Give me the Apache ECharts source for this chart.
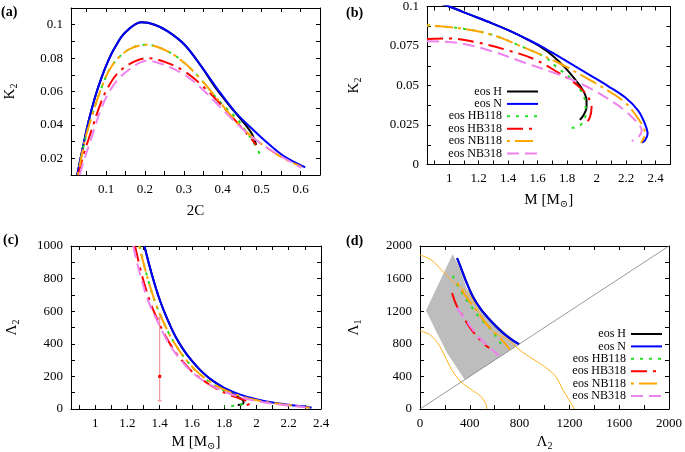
<!DOCTYPE html>
<html><head><meta charset="utf-8">
<script src="https://cdn.jsdelivr.net/npm/echarts@6/dist/echarts.min.js"></script>
<style>html,body{margin:0;padding:0;background:#fff}#c{width:685px;height:452px}</style>
</head><body><div id="c"></div>
<script>
// ---------- data ----------
const NAMES = ['eos H','eos N','eos HB118','eos HB318','eos NB118','eos NB318'];

// panel (a): K2 vs 2C
const a_H = [[0.026,0.010],[0.04,0.026],[0.055,0.042],[0.071,0.056],[0.088,0.068],[0.105,0.078],[0.122,0.086],[0.148,0.095],[0.191,0.1014],[0.225,0.100],[0.259,0.096],[0.302,0.088],[0.345,0.075],[0.379,0.063],[0.414,0.0525],[0.448,0.043],[0.474,0.035],[0.486,0.028]];
const a_N = [[0.026,0.010],[0.04,0.026],[0.055,0.042],[0.071,0.056],[0.088,0.068],[0.105,0.078],[0.122,0.086],[0.148,0.095],[0.191,0.1014],[0.225,0.100],[0.259,0.096],[0.302,0.088],[0.345,0.075],[0.388,0.061],[0.431,0.048],[0.474,0.038],[0.516,0.029],[0.559,0.021],[0.612,0.0146]];
const a_HB118 = [[0.028,0.010],[0.045,0.030],[0.062,0.044],[0.088,0.062],[0.114,0.075],[0.157,0.085],[0.204,0.088],[0.259,0.084],[0.302,0.077],[0.345,0.067],[0.388,0.055],[0.414,0.049],[0.439,0.043],[0.46,0.036],[0.478,0.030],[0.495,0.0226]];
const a_HB318 = [[0.028,0.010],[0.042,0.022],[0.056,0.032],[0.088,0.054],[0.114,0.066],[0.139,0.073],[0.174,0.078],[0.208,0.080],[0.259,0.077],[0.302,0.072],[0.345,0.064],[0.388,0.054],[0.431,0.043],[0.465,0.034],[0.486,0.028]];
const a_NB118 = [[0.028,0.010],[0.045,0.030],[0.062,0.044],[0.088,0.062],[0.114,0.075],[0.157,0.085],[0.204,0.088],[0.259,0.084],[0.302,0.077],[0.345,0.067],[0.388,0.055],[0.431,0.043],[0.474,0.033],[0.516,0.026],[0.559,0.0196],[0.602,0.015]];
const a_NB318 = [[0.032,0.010],[0.045,0.020],[0.058,0.029],[0.088,0.050],[0.114,0.062],[0.148,0.071],[0.208,0.0784],[0.259,0.075],[0.302,0.070],[0.345,0.062],[0.388,0.052],[0.431,0.042],[0.474,0.033],[0.516,0.026],[0.559,0.020],[0.602,0.0144]];
const a_xTicks = [0.05,0.1,0.15,0.2,0.25,0.3,0.35,0.4,0.45,0.5,0.55,0.6];
const a_xLabels = [0.1,0.2,0.3,0.4,0.5,0.6];
const a_yTicks = [0.02,0.03,0.04,0.05,0.06,0.07,0.08,0.09,0.1];
const a_yLabels = [0.02,0.04,0.06,0.08,0.1];

// panel (b): K2 vs M
const b_H = [[0.95,0.1015],[1.0,0.1],[1.15,0.0945],[1.287,0.0895],[1.40,0.085],[1.513,0.080],[1.62,0.0745],[1.694,0.0695],[1.784,0.0615],[1.852,0.054],[1.909,0.0466],[1.931,0.0404],[1.931,0.036],[1.909,0.031],[1.886,0.0282]];
const b_N = [[0.95,0.1015],[1.0,0.1],[1.15,0.0945],[1.287,0.0895],[1.40,0.085],[1.513,0.080],[1.63,0.0745],[1.739,0.0686],[1.852,0.0623],[1.965,0.056],[2.079,0.0495],[2.192,0.0425],[2.282,0.034],[2.327,0.0257],[2.345,0.0194],[2.327,0.0153],[2.305,0.0138]];
const b_HB118 = [[0.85,0.088],[1.06,0.0864],[1.287,0.0822],[1.513,0.0738],[1.65,0.068],[1.73,0.0615],[1.80,0.0565],[1.86,0.051],[1.905,0.0445],[1.925,0.038],[1.925,0.032],[1.905,0.0268],[1.875,0.0238],[1.83,0.0232]];
const b_HB318 = [[0.85,0.0795],[0.993,0.0798],[1.174,0.0776],[1.40,0.0722],[1.581,0.0665],[1.739,0.0582],[1.83,0.0529],[1.898,0.0477],[1.943,0.0425],[1.965,0.0362],[1.954,0.030],[1.92,0.0247]];
const b_NB118 = [[0.85,0.088],[1.06,0.0864],[1.287,0.0822],[1.513,0.0738],[1.739,0.0644],[1.965,0.0529],[2.079,0.0466],[2.192,0.0393],[2.259,0.032],[2.316,0.0236],[2.327,0.0194],[2.32,0.017],[2.3,0.0138]];
const b_NB318 = [[0.85,0.078],[1.06,0.077],[1.287,0.0718],[1.513,0.0644],[1.739,0.0571],[1.852,0.0529],[1.965,0.0477],[2.079,0.0414],[2.192,0.0341],[2.282,0.0257],[2.305,0.0215],[2.282,0.0173],[2.237,0.0148]];
const b_xTicks = [0.9,1,1.1,1.2,1.3,1.4,1.5,1.6,1.7,1.8,1.9,2,2.1,2.2,2.3,2.4];
const b_xLabels = [1,1.2,1.4,1.6,1.8,2,2.2,2.4];
const b_yTicks = [0.0125,0.025,0.0375,0.05,0.0625,0.075,0.0875];
const b_yLabels = [0,0.025,0.05,0.075,0.1];

// panel (c): Lambda2 vs M
const c_H = [[1.305,1000],[1.35,830],[1.40,670],[1.45,545],[1.50,440],[1.55,360],[1.60,295],[1.65,240],[1.70,195],[1.75,158],[1.80,126],[1.85,95],[1.895,68],[1.92,45],[1.915,32],[1.884,24]];
const c_N = [[1.305,1000],[1.35,830],[1.40,670],[1.45,545],[1.50,440],[1.55,360],[1.60,295],[1.65,240],[1.70,195],[1.75,160],[1.80,130],[1.90,88],[2.0,60],[2.1,40],[2.2,26],[2.3,15],[2.342,8]];
const c_HB118 = [[1.276,1000],[1.32,820],[1.37,660],[1.42,540],[1.47,440],[1.52,360],[1.57,295],[1.62,240],[1.67,197],[1.72,158],[1.78,122],[1.84,92],[1.89,68],[1.915,50],[1.92,38],[1.905,27],[1.87,21],[1.80,16]];
const c_HB318 = [[1.247,1000],[1.29,820],[1.34,660],[1.39,540],[1.44,440],[1.49,360],[1.54,295],[1.59,240],[1.64,197],[1.70,155],[1.76,120],[1.82,92],[1.88,70],[1.935,52],[1.962,37],[1.94,24],[1.91,16]];
const c_NB118 = [[1.272,1000],[1.32,820],[1.37,660],[1.42,540],[1.47,440],[1.52,360],[1.57,295],[1.62,240],[1.67,197],[1.72,162],[1.78,128],[1.88,86],[1.98,58],[2.1,37],[2.2,24],[2.33,7]];
const c_NB318 = [[1.236,1000],[1.28,820],[1.33,660],[1.385,540],[1.435,440],[1.485,360],[1.535,295],[1.585,240],[1.64,195],[1.70,155],[1.78,115],[1.88,78],[1.99,50],[2.11,31],[2.23,18],[2.305,10]];
const c_err = [[1.4,200,50,560]];   // M, Lambda, low, high
const c_xTicks = [0.9,1,1.1,1.2,1.3,1.4,1.5,1.6,1.7,1.8,1.9,2,2.1,2.2,2.3];
const c_xLabels = [1,1.2,1.4,1.6,1.8,2,2.2,2.4];
const c_yTicks = [100,200,300,400,500,600,700,800,900];
const c_yLabels = [0,200,400,600,800,1000];

// panel (d): Lambda1 vs Lambda2
const d_H = [[298,1850],[330,1728],[370,1566],[423,1384],[490,1222],[569,1080],[649,958],[720,870],[795,795]];
const d_N = [[298,1850],[330,1728],[370,1566],[423,1384],[490,1222],[569,1080],[649,958],[720,870],[795,795]];
const d_HB118 = [[263,1635],[330,1445],[410,1262],[490,1100],[569,979],[649,800]];
const d_HB318 = [[258,1424],[290,1283],[343,1141],[410,979],[516,796],[556,750]];
const d_NB118 = [[299,1545],[360,1403],[427,1261],[507,1098],[587,955],[667,833],[720,732]];
const d_NB318 = [[293,1243],[383,1060],[463,898],[543,776],[636,654]];
const d_region = [[262,1900],[48,1208],[130,950],[220,680],[360,360],[780,780],[747,854],[613,1037],[480,1240],[373,1485],[320,1729]];
const d_c90 = [[0,1890],[90,1830],[197,1668],[277,1546],[383,1424],[463,1222],[516,1060],[596,938],[702,857],[790,735],[900,620],[1000,520],[1090,400],[1150,230],[1205,90],[1238,0]];
const d_c50 = [[0,960],[75,915],[140,815],[200,650],[255,480],[330,330],[420,230],[485,160],[530,60],[537,0]];
const d_diag = [[0,0],[2000,2000]];
const d_labelNames = ['(90%)','(50%)'];
const d_labelPos = [[729,490],[330,80]];
const d_xTicks = [200,400,600,800,1000,1200,1400,1600,1800];
const d_xLabels = [0,400,800,1200,1600,2000];
const d_yTicks = [200,400,600,800,1000,1200,1400,1600,1800];
const d_yLabels = [0,400,800,1200,1600,2000];

// ---------- styling ----------
const FONT = '"Liberation Serif","DejaVu Serif",serif';
const STY = {
  'eos H':     {color:'#000000', width:2, type:'solid'},
  'eos N':     {color:'#0000ff', width:2, type:'solid'},
  'eos HB118': {color:'#22dd22', width:2, type:[3,6]},
  'eos HB318': {color:'#ff0000', width:2, type:[16,6,3,6]},
  'eos NB118': {color:'#ffa500', width:2, type:[3,5,18,5]},
  'eos NB318': {color:'#ee82ee', width:2, type:[12,6]}
};
const fmt = v => String(+(+v).toFixed(4));
const rich = {s:{fontSize:10, fontFamily:FONT, lineHeight:10, verticalAlign:'bottom', color:'#000'}};
const nameStyle = {fontFamily:FONT, fontSize:15, color:'#000', lineHeight:18, rich};

const grids = [
  {left:71, top:8, width:249, height:167},
  {left:427, top:5, width:243.5, height:159.5},
  {left:71, top:246, width:250, height:164.5},
  {left:420, top:246, width:250.5, height:164.5}
];
const P = [
  {xr:[0.01,0.65], yr:[0.01,0.11], xt:a_xTicks, xl:a_xLabels, yt:a_yTicks, yl:a_yLabels, xn:'2C', yn:'K{s|2}', xg:27, yg:52, d:[a_H,a_N,a_HB118,a_HB318,a_NB118,a_NB318]},
  {xr:[0.85,2.5], yr:[0,0.1], xt:b_xTicks, xl:b_xLabels, yt:b_yTicks, yl:b_yLabels, xn:'M [M{s|⊙}]', yn:'K{s|2}', xg:27, yg:64, d:[b_H,b_N,b_HB118,b_HB318,b_NB118,b_NB318]},
  {xr:[0.85,2.4], yr:[0,1000], xt:c_xTicks, xl:c_xLabels, yt:c_yTicks, yl:c_yLabels, xn:'M [M{s|⊙}]', yn:'Λ{s|2}', xg:24, yg:50, d:[c_H,c_N,c_HB118,c_HB318,c_NB118,c_NB318]},
  {xr:[0,2000], yr:[0,2000], xt:d_xTicks, xl:d_xLabels, yt:d_yTicks, yl:d_yLabels, xn:'Λ{s|2}', yn:'Λ{s|1}', xg:24, yg:57, d:[d_H,d_N,d_HB118,d_HB318,d_NB118,d_NB318]}
];

function axes(gi, p, dim) {
  const r = dim==='x' ? p.xr : p.yr;
  const ticks = dim==='x' ? p.xt : p.yt;
  const labels = dim==='x' ? p.xl : p.yl;
  const pos = dim==='x' ? ['bottom','top'] : ['left','right'];
  const base = {type:'value', gridIndex:gi, min:r[0], max:r[1], splitLine:{show:false},
    axisLine:{show:true, onZero:false, lineStyle:{color:'#000', width:1}},
    axisTick:{show:true, inside:true, length:4, customValues:ticks, lineStyle:{color:'#000', width:1}}};
  return [
    Object.assign({}, base, {position:pos[0],
      axisLabel:{show:true, customValues:labels, formatter:fmt, color:'#000', fontFamily:FONT, fontSize:13, margin:8},
      name: dim==='x'?p.xn:p.yn, nameLocation:'middle', nameGap: dim==='x'?p.xg:p.yg, nameTextStyle:nameStyle}),
    Object.assign({}, base, {position:pos[1], axisLabel:{show:false}})
  ];
}

const xAxis = [], yAxis = [], series = [];
P.forEach((p, gi) => {
  xAxis.push(...axes(gi, p, 'x'));
  yAxis.push(...axes(gi, p, 'y'));
  p.d.forEach((data, k) => {
    const nm = NAMES[k];
    series.push({type:'line', name:nm, data, xAxisIndex:gi*2, yAxisIndex:gi*2, symbol:'none', smooth:0.35,
      color:STY[nm].color, lineStyle:Object.assign({}, STY[nm]), z:3+k*0.01, silent:true, animation:false});
  });
});

// error bar (c)
series.push({type:'custom', xAxisIndex:4, yAxisIndex:4, data:c_err, z:5, silent:true, animation:false,
  renderItem:(params, api) => {
    const x = api.value(0), y = api.value(1), lo = api.value(2), hi = api.value(3);
    const a = api.coord([x, lo]), b = api.coord([x, hi]), c = api.coord([x, y]);
    const st = {stroke:'#f08080', lineWidth:1};
    return {type:'group', children:[
      {type:'line', shape:{x1:a[0], y1:a[1], x2:b[0], y2:b[1]}, style:st},
      {type:'line', shape:{x1:a[0]-2, y1:a[1], x2:a[0]+2, y2:a[1]}, style:st},
      {type:'line', shape:{x1:b[0]-2, y1:b[1], x2:b[0]+2, y2:b[1]}, style:st},
      {type:'rect', shape:{x:c[0]-1.5, y:c[1]-1.5, width:3, height:3}, style:{fill:'#ff0000'}}
    ]};
  }});

// region, contours, diagonal, labels (d)
series.push({type:'custom', xAxisIndex:6, yAxisIndex:6, data:[0], z:1, silent:true, animation:false,
  renderItem:(params, api) => ({type:'polygon', shape:{points:d_region.map(q => api.coord(q))}, style:{fill:'#bdbdbd'}})});
series.push({type:'line', data:d_diag, xAxisIndex:6, yAxisIndex:6, symbol:'none', lineStyle:{color:'#808080', width:0.8}, z:2, silent:true, animation:false});
series.push({type:'line', data:d_c90, xAxisIndex:6, yAxisIndex:6, symbol:'none', smooth:0.3, lineStyle:{color:'#ffb020', width:1}, z:2, silent:true, animation:false});
series.push({type:'line', data:d_c50, xAxisIndex:6, yAxisIndex:6, symbol:'none', smooth:0.3, lineStyle:{color:'#ffb020', width:1}, z:2, silent:true, animation:false});
series.push({type:'scatter', xAxisIndex:6, yAxisIndex:6, symbolSize:1, itemStyle:{opacity:0}, z:4, silent:true, animation:false,
  data:d_labelPos.map((v,i) => ({value:v, name:d_labelNames[i]})),
  label:{show:true, position:'inside', formatter:'{b}', color:'#ffa500', fontFamily:FONT, fontSize:14}});

const legendBase = {data:NAMES, orient:'vertical', align:'right', itemWidth:31, itemHeight:12, itemGap:0.4,
  selectedMode:false, itemStyle:{opacity:0, borderWidth:0},
  textStyle:{fontFamily:FONT, fontSize:12, color:'#000', width:70, align:'right', lineHeight:12}};

const option = {
  animation:false, backgroundColor:'#fff',
  grid: grids.map(g => Object.assign({show:false, containLabel:false}, g)),
  xAxis, yAxis, series,
  legend:[Object.assign({left:427, top:80.5}, legendBase), Object.assign({left:551, top:323}, legendBase)],
  graphic:[
    {type:'text', left:1, top:5, style:{text:'(a)', font:'bold 14px '+FONT, fill:'#000'}},
    {type:'text', left:346, top:6, style:{text:'(b)', font:'bold 14px '+FONT, fill:'#000'}},
    {type:'text', left:3, top:233, style:{text:'(c)', font:'bold 14px '+FONT, fill:'#000'}},
    {type:'text', left:346, top:234, style:{text:'(d)', font:'bold 14px '+FONT, fill:'#000'}}
  ]
};
const chart = echarts.init(document.getElementById('c'), null, {renderer:'canvas'});
chart.setOption(option);
</script></body></html>
